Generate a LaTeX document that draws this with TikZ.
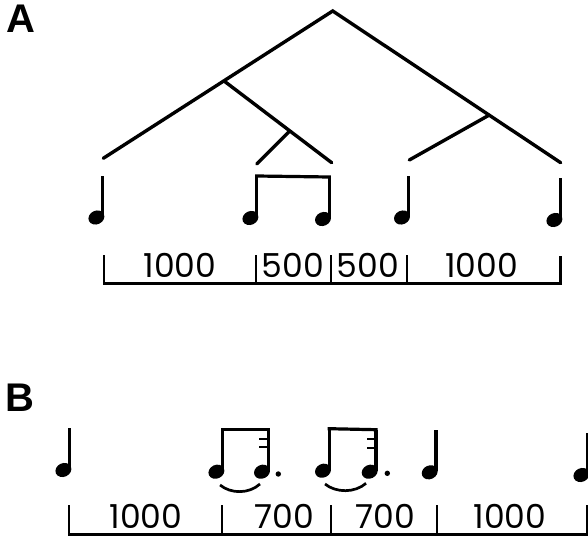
\documentclass[tikz,border=0pt]{standalone}
\usepackage{fontspec}
\setmainfont{Poppins}
\newfontfamily\labfont{Liberation Sans}
\begin{document}
\begin{tikzpicture}[x=1pt,y=-1pt,
  branch/.style={line width=3.4pt,line cap=round},
  rule/.style={line width=2.3pt},
  tick/.style={line width=2.1pt},
  beam/.style={line width=3.2pt,line cap=rect},
  flagtick/.style={line width=2.3pt},
  slur/.style={line width=2.7pt},
  num/.style={inner sep=0pt,font=\fontsize{33}{33}\selectfont},
  panel/.style={inner sep=0pt,font=\labfont\bfseries\fontsize{40}{40}\selectfont},
  qnote/.pic={\fill[rotate=25] (0,0) ellipse[x radius=8.2pt, y radius=6.8pt];
              \draw[line width=3.3pt] (6.3,-1) -- (6.3,-42) coordinate (-top);}]
\useasboundingbox (0,0) rectangle (588,540);
% panel labels
\node[panel] (labA) at (21,19) {A};
\node[panel] (labB) at (20,398) {B};
% ---------------- tree A
\coordinate (apex) at (332.7,11);
\coordinate (nL1) at (225,81.7);
\coordinate (nL2) at (289,131.7);
\coordinate (nR1) at (489.3,115);
\coordinate (e1) at (103.3,158.3);
\coordinate (e2) at (256.7,164);
\coordinate (e3) at (331.7,162.7);
\coordinate (e4) at (409.3,160);
\coordinate (e5) at (560.7,162.7);
\draw[branch] (e1) -- (apex) -- (e5);
\draw[branch] (nL1) -- (e3);
\draw[branch] (nL2) -- (e2);
\draw[branch] (nR1) -- (e4);
% notes A
\pic (a1) at (96.4,217.5) {qnote};
\pic (a2) at (250.4,218) {qnote};
\pic (a3) at (323,219) {qnote};
\pic (a4) at (402,217.5) {qnote};
\pic (a5) at (554.4,220) {qnote};
\draw[beam] (a2-top) -- (a3-top);
% bracket A
\coordinate (bA0) at (104,283.5);
\coordinate (bA4) at (560.5,283.5);
\draw[rule] (bA0) -- (bA4);
\foreach \x/\t in {104/255,255.7/255,330.7/255,407.3/255,560.5/256}
  \draw[tick] (\x,\t) -- (\x,284.6);
\node[num] (dA1) at (180,265) {1000};
\node[num] (dA2) at (293,265) {500};
\node[num] (dA3) at (368,265) {500};
\node[num] (dA4) at (481.7,265) {1000};
% ---------------- notes B
\pic (b1) at (63.4,470) {qnote};
\pic (b2) at (216.4,471.7) {qnote};
\pic (b3) at (262,471.7) {qnote};
\pic (b4) at (323,470.7) {qnote};
\pic (b5) at (369.7,471.7) {qnote};
\pic (b6) at (429.7,472.3) {qnote};
\pic (b7) at (581.4,475) {qnote};
\draw[beam] (b2-top) -- (b3-top);
\draw[beam] (b4-top) -- (b5-top);
\foreach \s/\y in {268.3/439.3,268.3/447,376/439.3,376/447.7}
  \draw[flagtick] (\s-9,\y) -- (\s,\y);
\coordinate (dot1) at (278.3,474);
\coordinate (dot2) at (387.3,473.3);
\fill (dot1) circle[radius=2.7pt];
\fill (dot2) circle[radius=2.7pt];
\coordinate (s1a) at (220,485);
\coordinate (s1b) at (260,484);
\coordinate (s2a) at (325,484);
\coordinate (s2b) at (366,483.3);
\draw[slur] (s1a) .. controls (231,494) and (249,494) .. (s1b);
\draw[slur] (s2a) .. controls (336,493) and (355,493) .. (s2b);
% bracket B
\coordinate (bB0) at (69,534.5);
\coordinate (bB4) at (590,534.5);
\draw[rule] (bB0) -- (bB4);
\foreach \x in {69,221.7,330.7,436.7,587.3}
  \draw[tick] (\x,505) -- (\x,535.6);
\node[num] (dB1) at (146,516.7) {1000};
\node[num] (dB2) at (284,516.7) {700};
\node[num] (dB3) at (385,516.7) {700};
\node[num] (dB4) at (510,516.7) {1000};
\end{tikzpicture}
\end{document}
